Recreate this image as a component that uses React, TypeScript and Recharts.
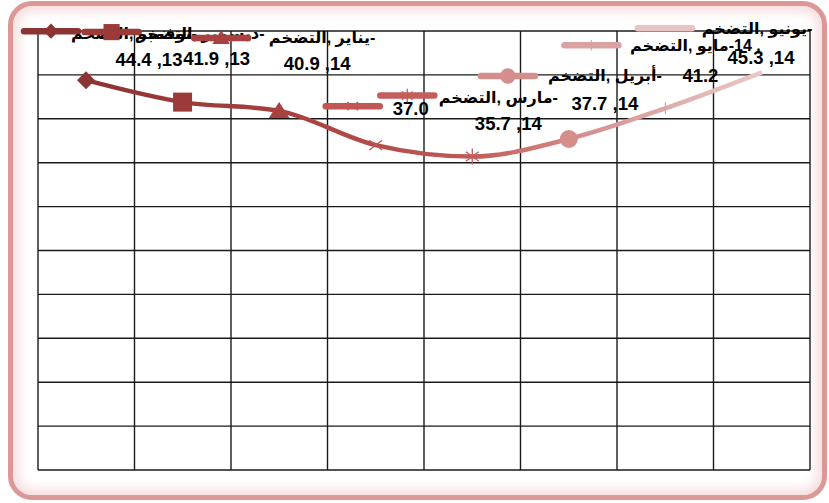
import React from "react";
import { LineChart, Line, XAxis, YAxis, CartesianGrid, LabelList } from "recharts";

const seriesName = "التضخم";
const categories = ["نوفمبر-13", "ديسمبر-13", "يناير-14", "فبراير-14", "مارس-14", "أبريل-14", "مايو-14", "يونيو-14"];
const inflation = [44.4, 41.9, 40.9, 37.0, 35.7, 37.7, 41.2, 45.3];
const yTicks = [0, 5, 10, 15, 20, 25, 30, 35, 40, 45, 50];
const markerShapes = ["diamond", "square", "triangle", "x", "star", "circle", "plus", "none"];
const pointColors = ["#8C3434", "#9C3A39", "#A8413F", "#C25654", "#C45E5C", "#D48E8C", "#D9A3A2", "#E8C3C3"];

const data = categories.map((c, i) => ({ month: c, value: inflation[i] }));

// label placement relative to each point (style/layout only)
const labelLayout = [
  { key: [-35, -49], l1: [48, -47], l2: [63, -21] },
  { key: [-71, -70], l1: [17, -69], l2: [34, -44] },
  { key: [-58, -73], l1: [43, -73], l2: [38, -47] },
  { key: [-23, -39], l1: null, l2: [35, -37] },
  { key: [-65, -61], l1: [26, -59], l2: [36, -33] },
  { key: [-61, -63], l1: [36, -63], l2: [36, -35] },
  { key: [-74, -63], l1: [30, -63], l2: [35, -33] },
  { key: [-97, -44], l1: [-5, -44], l2: [-1, -15] },
];

const FONT = "'Liberation Sans', Arial, 'DejaVu Sans', sans-serif";

function Marker({ shape, cx, cy, s, color }: any) {
  switch (shape) {
    case "diamond":
      return <polygon points={`${cx},${cy - s} ${cx + s},${cy} ${cx},${cy + s} ${cx - s},${cy}`} fill={color} />;
    case "square":
      return <rect x={cx - s} y={cy - s} width={2 * s} height={2 * s} fill={color} />;
    case "triangle":
      return <polygon points={`${cx},${cy - s} ${cx + s * 1.15},${cy + s * 0.8} ${cx - s * 1.15},${cy + s * 0.8}`} fill={color} />;
    case "x":
      return (
        <g stroke={color} strokeWidth={1.3}>
          <line x1={cx - s * 0.8} y1={cy - s * 0.6} x2={cx + s * 0.8} y2={cy + s * 0.6} />
          <line x1={cx - s * 0.8} y1={cy + s * 0.6} x2={cx + s * 0.8} y2={cy - s * 0.6} />
        </g>
      );
    case "star":
      return (
        <g stroke={color} strokeWidth={1.3}>
          <line x1={cx - s * 0.8} y1={cy - s * 0.6} x2={cx + s * 0.8} y2={cy + s * 0.6} />
          <line x1={cx - s * 0.8} y1={cy + s * 0.6} x2={cx + s * 0.8} y2={cy - s * 0.6} />
          <line x1={cx} y1={cy - s} x2={cx} y2={cy + s} />
        </g>
      );
    case "circle":
      return <circle cx={cx} cy={cy} r={s} fill={color} />;
    case "plus":
      return (
        <g stroke={color} strokeWidth={1.2}>
          <line x1={cx - s} y1={cy} x2={cx + s} y2={cy} />
          <line x1={cx} y1={cy - s} x2={cx} y2={cy + s} />
        </g>
      );
    default:
      return null;
  }
}

const markerSize = [9, 9.5, 9, 8, 8, 9, 6, 0];

const renderDot = (props: any) => {
  const { cx, cy, index } = props;
  return (
    <g key={`dot-${index}`}>
      <Marker shape={markerShapes[index]} cx={cx} cy={cy} s={markerSize[index]} color={pointColors[index]} />
    </g>
  );
};

const renderLabel = (props: any) => {
  const { x, y, index, value } = props;
  const lay = labelLayout[index];
  const [month, year] = categories[index].split("-");
  const color = pointColors[index];
  const kx = x + lay.key[0];
  const ky = y + lay.key[1];
  let line1: string | null = `${seriesName},\u200E ${month}-`;
  let line2 = `${Number(value).toFixed(1)} ,${year}`;
  if (index === 3) {
    line1 = null;
    line2 = Number(value).toFixed(1);
  }
  if (index === 6) {
    line1 = `${seriesName},\u200E ${month}\u200E-${year} ,`;
    line2 = Number(value).toFixed(1);
  }
  return (
    <g key={`lab-${index}`}>
      <line x1={kx - 27} y1={ky} x2={kx + 27} y2={ky} stroke={color} strokeWidth={6.5} strokeLinecap="round" />
      <Marker shape={markerShapes[index]} cx={kx} cy={ky} s={markerSize[index] * 0.85} color={color} />
      {line1 && lay.l1 && (
        <text x={x + lay.l1[0]} y={y + lay.l1[1]} textAnchor="middle" dominantBaseline="central"
          fontFamily={FONT} fontWeight="bold" fontSize={16} fill="#000">
          {line1}
        </text>
      )}
      <text x={x + lay.l2[0]} y={y + lay.l2[1]} textAnchor="middle" dominantBaseline="central"
        fontFamily={FONT} fontWeight="bold" fontSize={18.5} fill="#000">
        {line2}
      </text>
    </g>
  );
};

const verticalGen = ({ offset }: any) => {
  const n = categories.length;
  return Array.from({ length: n + 1 }, (_, i) => offset.left + (i * offset.width) / n);
};

export default function App() {
  return (
    <div style={{ position: "absolute", left: 0, top: 0, width: 829, height: 503, background: "#fff", overflow: "hidden" }}>
      <div
        style={{
          position: "absolute",
          left: 8,
          top: 1,
          width: 819,
          height: 499,
          boxSizing: "border-box",
          border: "5px solid #DB9897",
          borderRadius: 24,
          boxShadow: "inset 0 0 12px 5px rgba(236,190,190,0.55)",
          background: "#fff",
        }}
      />
      <div style={{ position: "absolute", left: 0, top: 0 }}>
        <LineChart width={829} height={503} data={data} margin={{ top: 31, right: 19, bottom: 33, left: 38 }}>
          <defs>
            <linearGradient id="lineGrad" x1="0" y1="0" x2="1" y2="0">
              <stop offset="0" stopColor="#8A3232" />
              <stop offset="0.143" stopColor="#9B3A39" />
              <stop offset="0.286" stopColor="#A5403F" />
              <stop offset="0.429" stopColor="#B44C4A" />
              <stop offset="0.571" stopColor="#C05A58" />
              <stop offset="0.714" stopColor="#D38987" />
              <stop offset="0.857" stopColor="#DEACAB" />
              <stop offset="1" stopColor="#EAC8C8" />
            </linearGradient>
          </defs>
          <CartesianGrid stroke="#1a1a1a" strokeWidth={1.4} verticalCoordinatesGenerator={verticalGen} />
          <XAxis dataKey="month" hide padding={{ left: 48, right: 48 }} />
          <YAxis hide domain={[0, 50]} ticks={yTicks} />
          <Line
            type="monotone"
            dataKey="value"
            stroke="url(#lineGrad)"
            strokeWidth={4.5}
            dot={renderDot}
            activeDot={false}
            isAnimationActive={false}
          >
            <LabelList dataKey="value" content={renderLabel} />
          </Line>
        </LineChart>
      </div>
    </div>
  );
}
